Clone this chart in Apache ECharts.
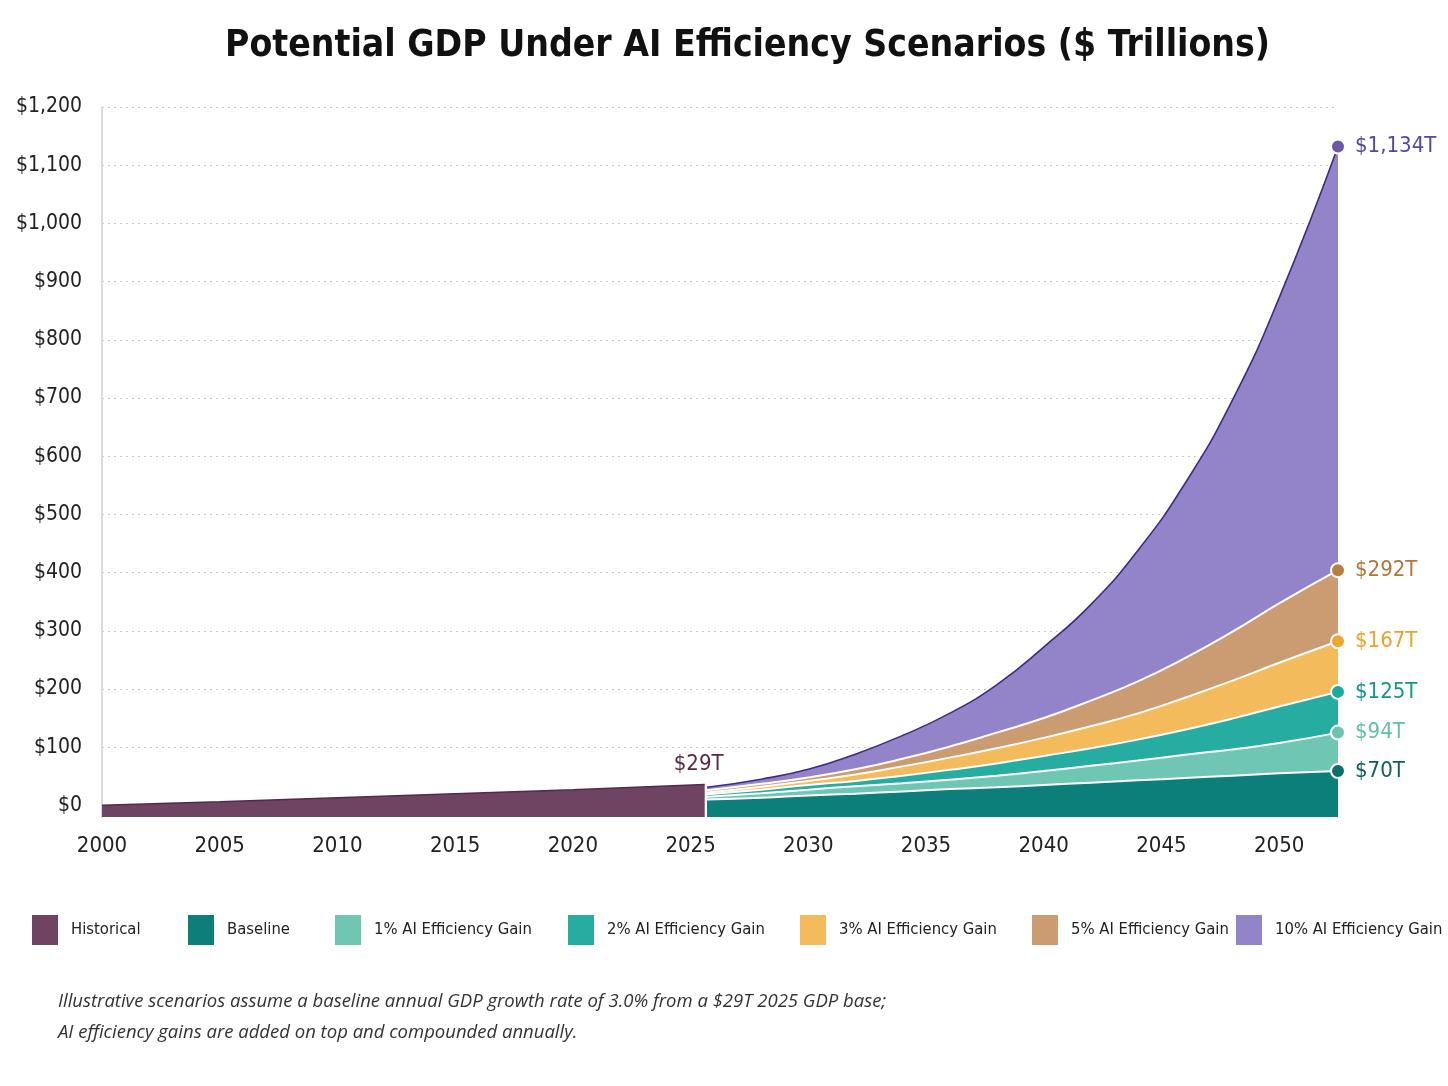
<!doctype html>
<html lang="en">
  <head>
    <meta charset="utf-8">
    <title>Potential GDP Under AI Efficiency Scenarios</title>
    <script src="https://cdn.jsdelivr.net/npm/echarts@6/dist/echarts.min.js"></script>
    <style>
      html, body { margin: 0; padding: 0; background: #fff; }
      #container { width: 1448px; height: 1086px; }
    </style>
  </head>
  <body>
    <div id="container"></div>
    <script type="text/javascript">
      // values ($ trillions)
      var histYears = [2000, 2005, 2010, 2015, 2020, 2025.6];
      var histValues = [0, 6, 13, 20, 27, 36];

      var fcYears = [2025.7, 2028, 2030, 2032, 2034, 2036, 2038, 2040, 2042, 2044, 2046, 2048, 2050, 2052.5];
      var baseline = [10, 13, 17, 20, 24, 28, 31, 35, 39, 43, 47, 51, 55, 59];
      var gain1 = [15, 21, 27, 33, 38, 44, 51, 59, 68, 77, 87, 96, 107, 125];
      var gain2 = [19, 27, 35, 42, 51, 61, 72, 85, 98, 113, 130, 149, 170, 195];
      var gain3 = [22, 32, 42, 53, 67, 82, 98, 116, 136, 158, 185, 214, 245, 282];
      var gain5 = [26, 37, 48, 62, 80, 101, 125, 150, 180, 213, 253, 298, 347, 404];
      var gain10 = [31, 45, 62, 88, 120, 158, 207, 272, 345, 438, 553, 695, 872, 1132];

      var seriesNames = ['Historical', 'Baseline', '1% AI Efficiency Gain', '2% AI Efficiency Gain',
                         '3% AI Efficiency Gain', '5% AI Efficiency Gain', '10% AI Efficiency Gain'];
      var endLabels = ['$70T', '$94T', '$125T', '$167T', '$292T', '$1,134T'];
      var histLabel = '$29T';
      var yTicks = [0, 100, 200, 300, 400, 500, 600, 700, 800, 900, 1000, 1100, 1200];

      // where each legend entry starts (px from left)
      var legendLeft = [32, 188, 335, 568, 800, 1032, 1236];

      var narrow = "'Liberation Sans Narrow', 'DejaVu Sans Condensed', sans-serif";

      function pairs(xs, ys) {
        return xs.map(function (x, i) { return [x, ys[i]]; });
      }

      // forecast area with a marker + label on the last point
      function scenario(name, values, fill, edge, edgeWidth, dot, labelColor, labelText) {
        var data = pairs(fcYears, values);
        var last = data.length - 1;
        data[last] = {
          value: data[last],
          symbol: 'circle',
          symbolSize: 14,
          itemStyle: { color: dot, borderColor: '#fff', borderWidth: 2 },
          label: {
            show: true, position: 'right', distance: 9,
            formatter: labelText, color: labelColor,
            fontFamily: narrow, fontSize: 22, fontWeight: 500
          }
        };
        return {
          name: name, type: 'line', data: data,
          smooth: true, symbol: 'none', clip: false,
          itemStyle: { color: fill },
          lineStyle: { color: edge, width: edgeWidth },
          areaStyle: { color: fill, opacity: 1, origin: 'start' },
          emphasis: { disabled: true }
        };
      }

      var hist = pairs(histYears, histValues);
      hist[hist.length - 1] = {
        value: hist[hist.length - 1],
        symbol: 'circle', symbolSize: 1,
        itemStyle: { color: 'rgba(0,0,0,0)' },
        label: {
          show: true, position: 'top', distance: 9, offset: [-6, 0],
          formatter: histLabel, color: '#5a2946',
          fontFamily: narrow, fontSize: 22, fontWeight: 500
        }
      };

      // one legend per entry so each sits where the reference has it
      var legends = seriesNames.map(function (name, i) {
        return {
          data: [name],
          left: legendLeft[i], top: 915, padding: 0,
          icon: 'rect', itemWidth: 26, itemHeight: 30,
          textStyle: { fontFamily: narrow, fontSize: 16.5, color: '#222', padding: [0, 0, 0, 8] }
        };
      });

      var myChart = echarts.init(document.getElementById('container'));
      var option = {
        animation: false,
        backgroundColor: '#ffffff',
        title: [{
          text: 'Potential GDP Under AI Efficiency Scenarios ($ Trillions)',
          left: 220, top: 23,
          textStyle: { fontFamily: narrow, fontWeight: 'bold', fontSize: 37, color: '#111' }
        }, {
          text: 'Illustrative scenarios assume a baseline annual GDP growth rate of 3.0% from a $29T 2025 GDP base;\nAI efficiency gains are added on top and compounded annually.',
          left: 53, top: 981,
          textStyle: { fontFamily: 'Open Sans', fontStyle: 'italic', fontWeight: 'normal', fontSize: 18.5, lineHeight: 31, color: '#333' }
        }],
        legend: legends,
        grid: { left: 102, right: 110, top: 107, bottom: 269 },
        xAxis: {
          type: 'value', min: 2000, max: 2052.5, interval: 5,
          axisLine: { show: false },
          axisTick: { show: true, length: 8, lineStyle: { color: '#d0d0d0' } },
          axisLabel: {
            margin: 18, showMaxLabel: false,
            fontFamily: narrow, fontSize: 22, color: '#222',
            formatter: function (v) { return String(v); }
          },
          splitLine: { show: false }
        },
        yAxis: {
          type: 'value', min: -20, max: 1200,
          axisLine: { show: true, lineStyle: { color: '#dcdcdc', width: 2 } },
          axisTick: { show: false, customValues: yTicks },
          axisLabel: {
            customValues: yTicks, margin: 20,
            fontFamily: narrow, fontSize: 21, color: '#222',
            formatter: function (v) { return '$' + v.toLocaleString('en-US'); }
          },
          splitLine: { show: true, lineStyle: { color: '#c8c8c8', type: [2, 4], width: 1.2 } }
        },
        series: [
          {
            name: 'Historical', type: 'line', data: hist,
            symbol: 'none', clip: false,
            itemStyle: { color: '#6e4462' },
            lineStyle: { color: '#552a47', width: 1.5 },
            areaStyle: { color: '#6e4462', opacity: 1, origin: 'start' },
            emphasis: { disabled: true }
          },
          // drawn back to front so the lower scenarios sit on top
          scenario('10% AI Efficiency Gain', gain10, '#9383c9', '#3c2a8c', 1.6, '#6b56a8', '#5a46a2', endLabels[5]),
          scenario('5% AI Efficiency Gain', gain5, '#cb9c72', '#ffffff', 2, '#b5803f', '#b07738', endLabels[4]),
          scenario('3% AI Efficiency Gain', gain3, '#f3bb5b', '#ffffff', 2, '#eea72e', '#eaa22a', endLabels[3]),
          scenario('2% AI Efficiency Gain', gain2, '#27aca2', '#ffffff', 2, '#1aa99e', '#17958c', endLabels[2]),
          scenario('1% AI Efficiency Gain', gain1, '#6fc6b2', '#ffffff', 2, '#6cc4b0', '#62bfa8', endLabels[1]),
          scenario('Baseline', baseline, '#0c7f7a', '#ffffff', 2, '#0c6e6a', '#0b5f5c', endLabels[0])
        ]
      };

      if (option && typeof option === 'object') {
        myChart.setOption(option, true);
      }
    </script>
  </body>
</html>
